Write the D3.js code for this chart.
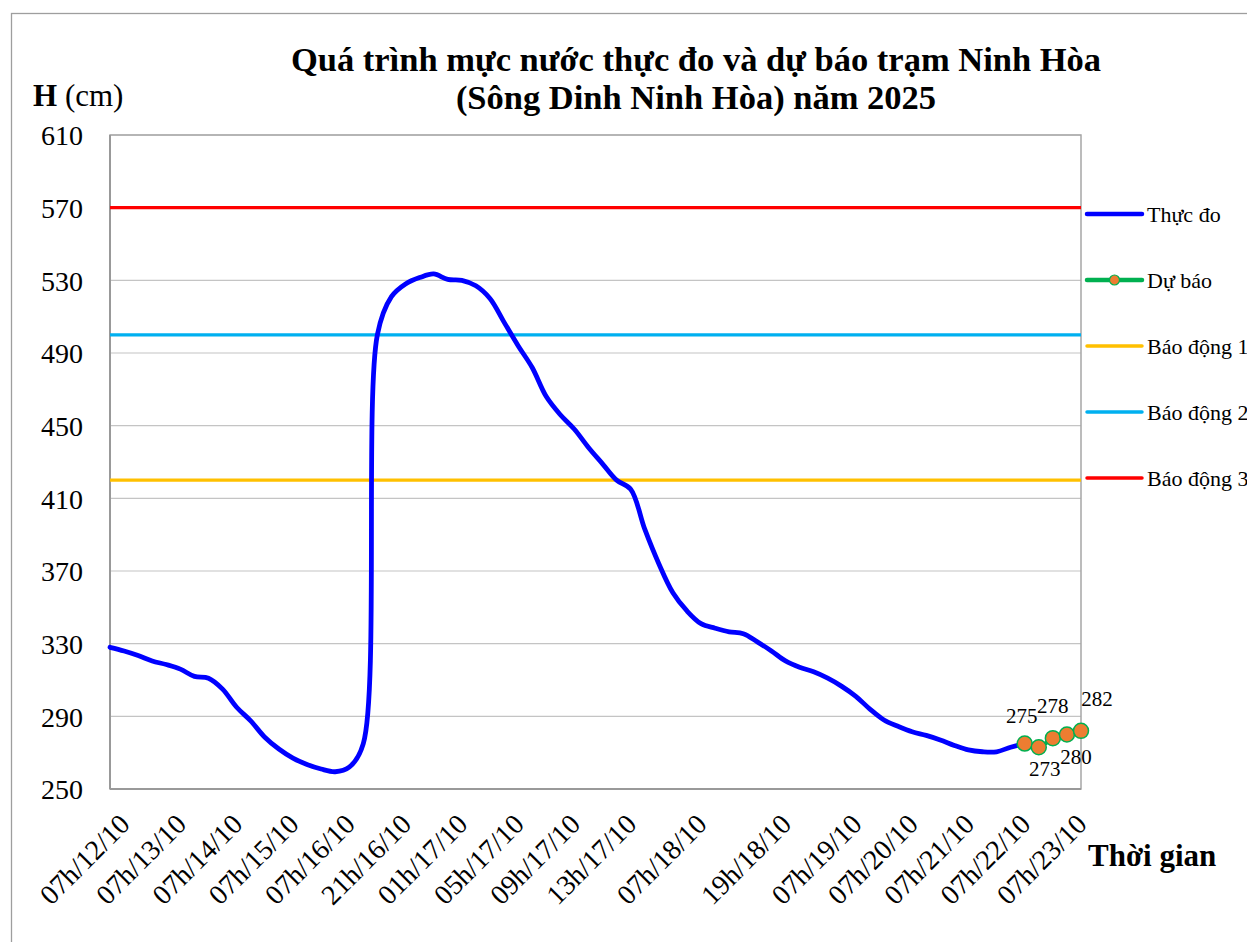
<!DOCTYPE html>
<html>
<head>
<meta charset="utf-8">
<script src="https://cdn.jsdelivr.net/npm/d3@7"></script>
<style>
  html, body { margin: 0; padding: 0; background: #fff; }
  svg { display: block; }
  svg text { font-family: "Liberation Serif", "Times New Roman", serif; }
</style>
</head>
<body>
<svg id="chart" width="1247" height="942"></svg>
<script>
// ---------------- data ----------------
const categories = [
  "", "07h/12/10", "", "", "", "07h/13/10", "", "", "", "07h/14/10",
  "", "", "", "07h/15/10", "", "", "", "07h/16/10", "", "",
  "", "21h/16/10", "", "", "", "01h/17/10", "", "", "", "05h/17/10",
  "", "", "", "09h/17/10", "", "", "", "13h/17/10", "", "",
  "", "", "07h/18/10", "", "", "", "", "", "19h/18/10", "",
  "", "", "", "07h/19/10", "", "", "", "07h/20/10", "", "",
  "", "07h/21/10", "", "", "", "07h/22/10", "", "", "", "07h/23/10"
];
const observed = [
  328, 326, 323.5, 320.5, 318.5, 316, 312, 311, 305, 295,
  287.5, 278.5, 272, 267, 263.5, 261, 259.5, 262, 275, 500,
  521, 528, 531.5, 533.5, 530.5, 530, 527, 520, 507, 494,
  482, 466, 456, 448, 438, 429, 420, 415, 393, 374,
  358, 348, 341, 338.5, 336.5, 335.5, 331, 326, 320.5, 317,
  314.5, 311, 306.5, 301, 294, 288, 284.5, 281.5, 279.5, 277,
  274, 271.5, 270.5, 270.5, 273, 275
];
const forecast = [275, 273, 278, 280, 282];   // last five categories
const alarmNames = ["Báo động 1", "Báo động 2", "Báo động 3"];
const alarmLevels = [420, 500, 570];
const yTicks = [250, 290, 330, 370, 410, 450, 490, 530, 570, 610];
const titleLines = ["Quá trình mực nước thực đo và dự báo trạm Ninh Hòa", "(Sông Dinh Ninh Hòa) năm 2025"];

// ---------------- styles ----------------
const FONT = '"Liberation Serif", "Times New Roman", serif';
const alarmColors = ["#FFC000", "#00B0F0", "#FF0000"];
const obsColor = "#0000FF";
const fcLine = "#00B050", fcFill = "#ED7D31";
const labelOffsets = [[-3, -21], [6, 29], [0, -25], [9, 29], [16, -25]];

const svg = d3.select("#chart");
const plot = { left: 110, right: 1081, top: 135, bottom: 789 };

// outer chart frame
svg.append("rect").attr("x", 11.5).attr("y", 13.5).attr("width", 1400).attr("height", 1100)
  .attr("fill", "none").attr("stroke", "#9e9e9e").attr("stroke-width", 1.3);

const x = d3.scalePoint().domain(d3.range(categories.length)).range([plot.left, plot.right]);
const y = d3.scaleLinear().domain([250, 610]).range([plot.bottom, plot.top]);

// gridlines
svg.append("g").selectAll("line").data(yTicks).join("line")
  .attr("x1", plot.left).attr("x2", plot.right)
  .attr("y1", d => y(d)).attr("y2", d => y(d))
  .attr("stroke", "#c4c4c4").attr("stroke-width", 1.2);

// plot border
svg.append("rect").attr("x", plot.left).attr("y", plot.top)
  .attr("width", plot.right - plot.left).attr("height", plot.bottom - plot.top)
  .attr("fill", "none").attr("stroke", "#a6a6a6").attr("stroke-width", 1.5);
svg.append("line").attr("x1", plot.left).attr("x2", plot.left).attr("y1", plot.top).attr("y2", plot.bottom)
  .attr("stroke", "#999").attr("stroke-width", 2);
svg.append("line").attr("x1", plot.left).attr("x2", plot.right).attr("y1", plot.bottom).attr("y2", plot.bottom)
  .attr("stroke", "#999").attr("stroke-width", 2);

// y axis
const yAxis = svg.append("g").attr("transform", `translate(${plot.left},0)`)
  .call(d3.axisLeft(y).tickValues(yTicks).tickSize(0).tickPadding(27).tickFormat(d3.format("d")));
yAxis.attr("font-family", null).attr("font-size", null);
yAxis.select(".domain").remove();
yAxis.selectAll("text").style("font-family", FONT).style("font-size", "28px").attr("fill", "#000")
  .attr("dy", "0.35em");

// x axis (categorical)
const xAxis = svg.append("g").attr("transform", `translate(0,${plot.bottom})`)
  .call(d3.axisBottom(x).tickSize(0).tickFormat(i => categories[i]));
xAxis.attr("font-family", null).attr("font-size", null);
xAxis.select(".domain").remove();
xAxis.selectAll(".tick text")
  .style("font-family", FONT).style("font-size", "28px").attr("fill", "#000")
  .attr("text-anchor", "end").attr("y", 0).attr("dy", "0.35em")
  .attr("transform", "translate(0,30) rotate(-45)");

// alarm lines
svg.append("g").selectAll("line").data(alarmLevels).join("line")
  .attr("x1", plot.left).attr("x2", plot.right)
  .attr("y1", d => y(d)).attr("y2", d => y(d))
  .attr("stroke", (d, i) => alarmColors[i]).attr("stroke-width", 3.2);

// observed line
const line = d3.line().x(d => x(d.i)).y(d => y(d.v)).curve(d3.curveCatmullRom.alpha(0.5));
const obsData = observed.map((v, i) => ({ i, v }));
svg.append("path").datum(obsData).attr("d", line)
  .attr("fill", "none").attr("stroke", obsColor).attr("stroke-width", 4.8)
  .attr("stroke-linejoin", "round").attr("stroke-linecap", "round");

// forecast
const fStart = categories.length - forecast.length;
const fcData = forecast.map((v, j) => ({ i: fStart + j, v }));
svg.append("path").datum(fcData).attr("d", line)
  .attr("fill", "none").attr("stroke", fcLine).attr("stroke-width", 4);
svg.append("g").selectAll("circle").data(fcData).join("circle")
  .attr("cx", d => x(d.i)).attr("cy", d => y(d.v)).attr("r", 7.5)
  .attr("fill", fcFill).attr("stroke", fcLine).attr("stroke-width", 1.5);
svg.append("g").selectAll("text").data(fcData).join("text")
  .attr("x", (d, j) => x(d.i) + labelOffsets[j][0])
  .attr("y", (d, j) => y(d.v) + labelOffsets[j][1])
  .attr("text-anchor", "middle").style("font-size", "21px").text(d => d.v);

// title
svg.append("g").selectAll("text").data(titleLines).join("text")
  .attr("x", 696).attr("y", (d, i) => 71 + i * 38)
  .attr("text-anchor", "middle").style("font-size", "34.5px").attr("font-weight", "bold")
  .text(d => d);

// y axis title
const yt = svg.append("text").attr("x", 33).attr("y", 106).style("font-size", "31px");
yt.append("tspan").attr("font-weight", "bold").text("H");
yt.append("tspan").text(" (cm)");

// x axis title
svg.append("text").attr("x", 1088).attr("y", 866).style("font-size", "31px").attr("font-weight", "bold")
  .text("Thời gian");

// legend
const legendItems = [
  { name: "Thực đo", color: obsColor, marker: false, w: 4.5 },
  { name: "Dự báo", color: fcLine, marker: true, w: 4.5 },
  { name: alarmNames[0], color: alarmColors[0], marker: false, w: 3.5 },
  { name: alarmNames[1], color: alarmColors[1], marker: false, w: 3.5 },
  { name: alarmNames[2], color: alarmColors[2], marker: false, w: 3.5 }
];
const lg = svg.append("g").selectAll("g").data(legendItems).join("g")
  .attr("transform", (d, i) => `translate(1087,${214 + i * 66})`);
lg.append("line").attr("x1", 0).attr("x2", 55).attr("y1", 0).attr("y2", 0)
  .attr("stroke", d => d.color).attr("stroke-width", d => d.w).attr("stroke-linecap", "round");
lg.filter(d => d.marker).append("circle").attr("cx", 27.5).attr("cy", 0).attr("r", 5)
  .attr("fill", fcFill).attr("stroke", fcLine).attr("stroke-width", 1.2);
lg.append("text").attr("x", 60).attr("y", 0).attr("dy", "0.35em").style("font-size", "22px")
  .text(d => d.name);
</script>
</body>
</html>
